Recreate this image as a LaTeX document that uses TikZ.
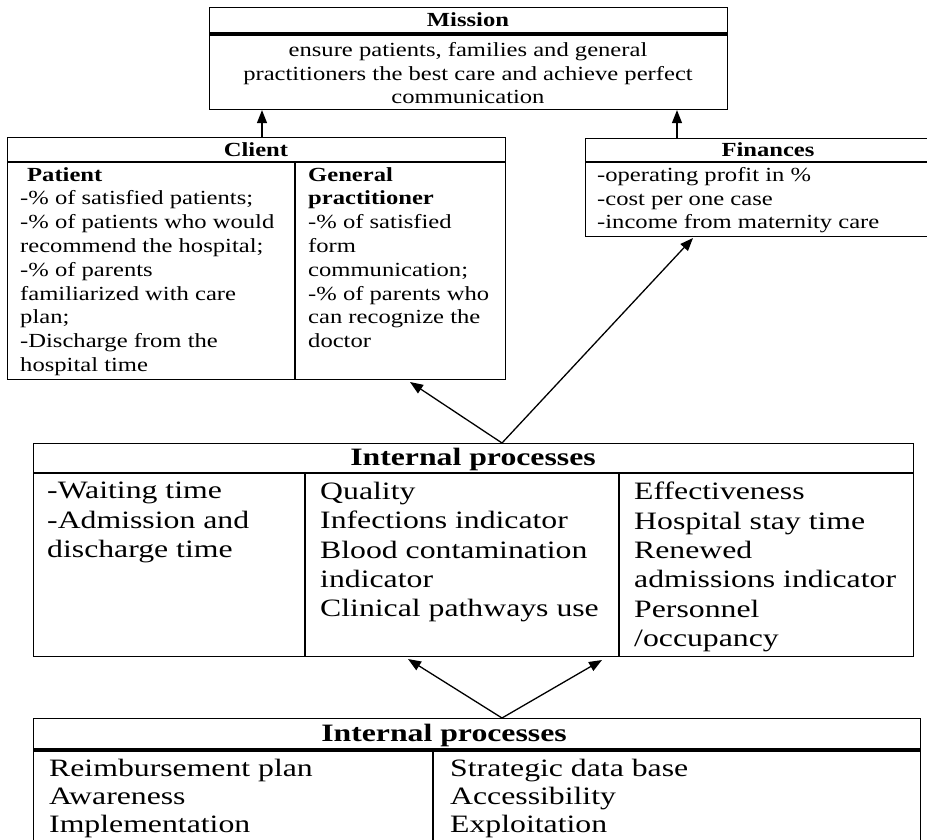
\documentclass[tikz,border=0pt]{standalone}
\usepackage{fontspec}
\setmainfont[FakeStretch=1.23]{Liberation Serif}
\newfontfamily\lowfont[FakeStretch=1.27]{Liberation Serif}
\usetikzlibrary{arrows.meta}

\begin{document}
\begin{tikzpicture}[x=1pt, y=-1pt,
  box/.style={draw, line width=1.1pt, inner sep=0pt, anchor=north west},
  head/.style={font=\fontsize{20}{24}\selectfont\bfseries, inner sep=0pt},
  txt/.style={font=\fontsize{20}{23.8}\selectfont, align=left, anchor=north west, inner sep=0pt},
  bighead/.style={font=\lowfont\fontsize{25}{30}\selectfont\bfseries, inner sep=0pt},
  bigtxt/.style={font=\lowfont\fontsize{25}{29.3}\selectfont, align=left, anchor=north west, inner sep=0pt},
  arr/.style={-{Triangle[length=13pt,width=10pt]}, line width=1.3pt}]

\useasboundingbox (0,0) rectangle (927,839);

% Boxes
\node[box, minimum width=518pt, minimum height=102pt] (mission) at (209,7) {};
\node[box, minimum width=498pt, minimum height=242pt] (client) at (7,137) {};
\node[box, minimum width=370pt, minimum height=98pt] (finances) at (585,138) {};
\node[box, minimum width=880pt, minimum height=213pt] (procA) at (33,443) {};
\node[box, minimum width=887pt, minimum height=160pt] (procB) at (33,718) {};

% Rules and column dividers
\draw[line width=4pt] (mission.west |- 0,34) -- (mission.east |- 0,34);
\draw[line width=1.1pt] (client.west |- 0,162) -- (client.east |- 0,162);
\draw[line width=1.1pt] (295,162) -- (client.south -| 295,0);
\draw[line width=1.1pt] (finances.west |- 0,162) -- (finances.east |- 0,162);
\draw[line width=1.1pt] (procA.west |- 0,473) -- (procA.east |- 0,473);
\draw[line width=1.1pt] (305,473) -- (procA.south -| 305,0);
\draw[line width=1.1pt] (619,473) -- (procA.south -| 619,0);
\draw[line width=4pt] (procB.west |- 0,750) -- (procB.east |- 0,750);
\draw[line width=1.1pt] (433,750) -- (procB.south -| 433,0);

% Texts
\node[head] (missionhead) at (468,20) {Mission};
\node[txt, align=center, anchor=north] (missiontext) at (468,42)
  {ensure patients, families and general\\practitioners the best care and achieve perfect\\communication};
\node[head] (clienthead) at (256,150) {Client};
\node[txt] (patient) at (20,167)
  {\hspace{7pt}\textbf{Patient}\\-\% of satisfied patients;\\-\% of patients who would\\recommend the hospital;\\-\% of parents\\familiarized with care\\plan;\\-Discharge from the\\hospital time};
\node[txt] (practitioner) at (308,167)
  {\textbf{General}\\\textbf{practitioner}\\-\% of satisfied\\form\\communication;\\-\% of parents who\\can recognize the\\doctor};
\node[head] (finhead) at (768,150) {Finances};
\node[txt] (fintext) at (597,167)
  {-operating profit in \%\\-cost per one case\\-income from maternity care};
\node[bighead] (procAhead) at (473,459) {Internal processes};
\node[bigtxt] (waiting) at (47,482) {-Waiting time\\-Admission and\\discharge time};
\node[bigtxt] (quality) at (320,482)
  {Quality\\Infections indicator\\Blood contamination\\indicator\\Clinical pathways use};
\node[bigtxt] (effect) at (634,482)
  {Effectiveness\\Hospital stay time\\Renewed\\admissions indicator\\Personnel\\/occupancy};
\node[bighead] (procBhead) at (444,735) {Internal processes};
\node[bigtxt, font=\lowfont\fontsize{25}{28}\selectfont] (reimb) at (49,759) {Reimbursement plan\\Awareness\\Implementation};
\node[bigtxt, font=\lowfont\fontsize{25}{28}\selectfont] (strategic) at (450,759) {Strategic data base\\Accessibility\\Exploitation};

% Connectors
\coordinate (apexA) at (502,443);
\coordinate (tipclient) at (410,382);
\coordinate (tipfin) at (693,238);
\coordinate (apexB) at (502,718);
\coordinate (tipleft) at (408,659);
\coordinate (tipright) at (602,660);
\draw[arr] (client.north -| 262,0) -- (mission.south -| 262,0);
\draw[arr] (finances.north -| 677,0) -- (mission.south -| 677,0);
\draw[arr] (apexA) -- (tipclient);
\draw[arr] (apexA) -- (tipfin);
\draw[arr] (apexB) -- (tipleft);
\draw[arr] (apexB) -- (tipright);
\end{tikzpicture}
\end{document}
